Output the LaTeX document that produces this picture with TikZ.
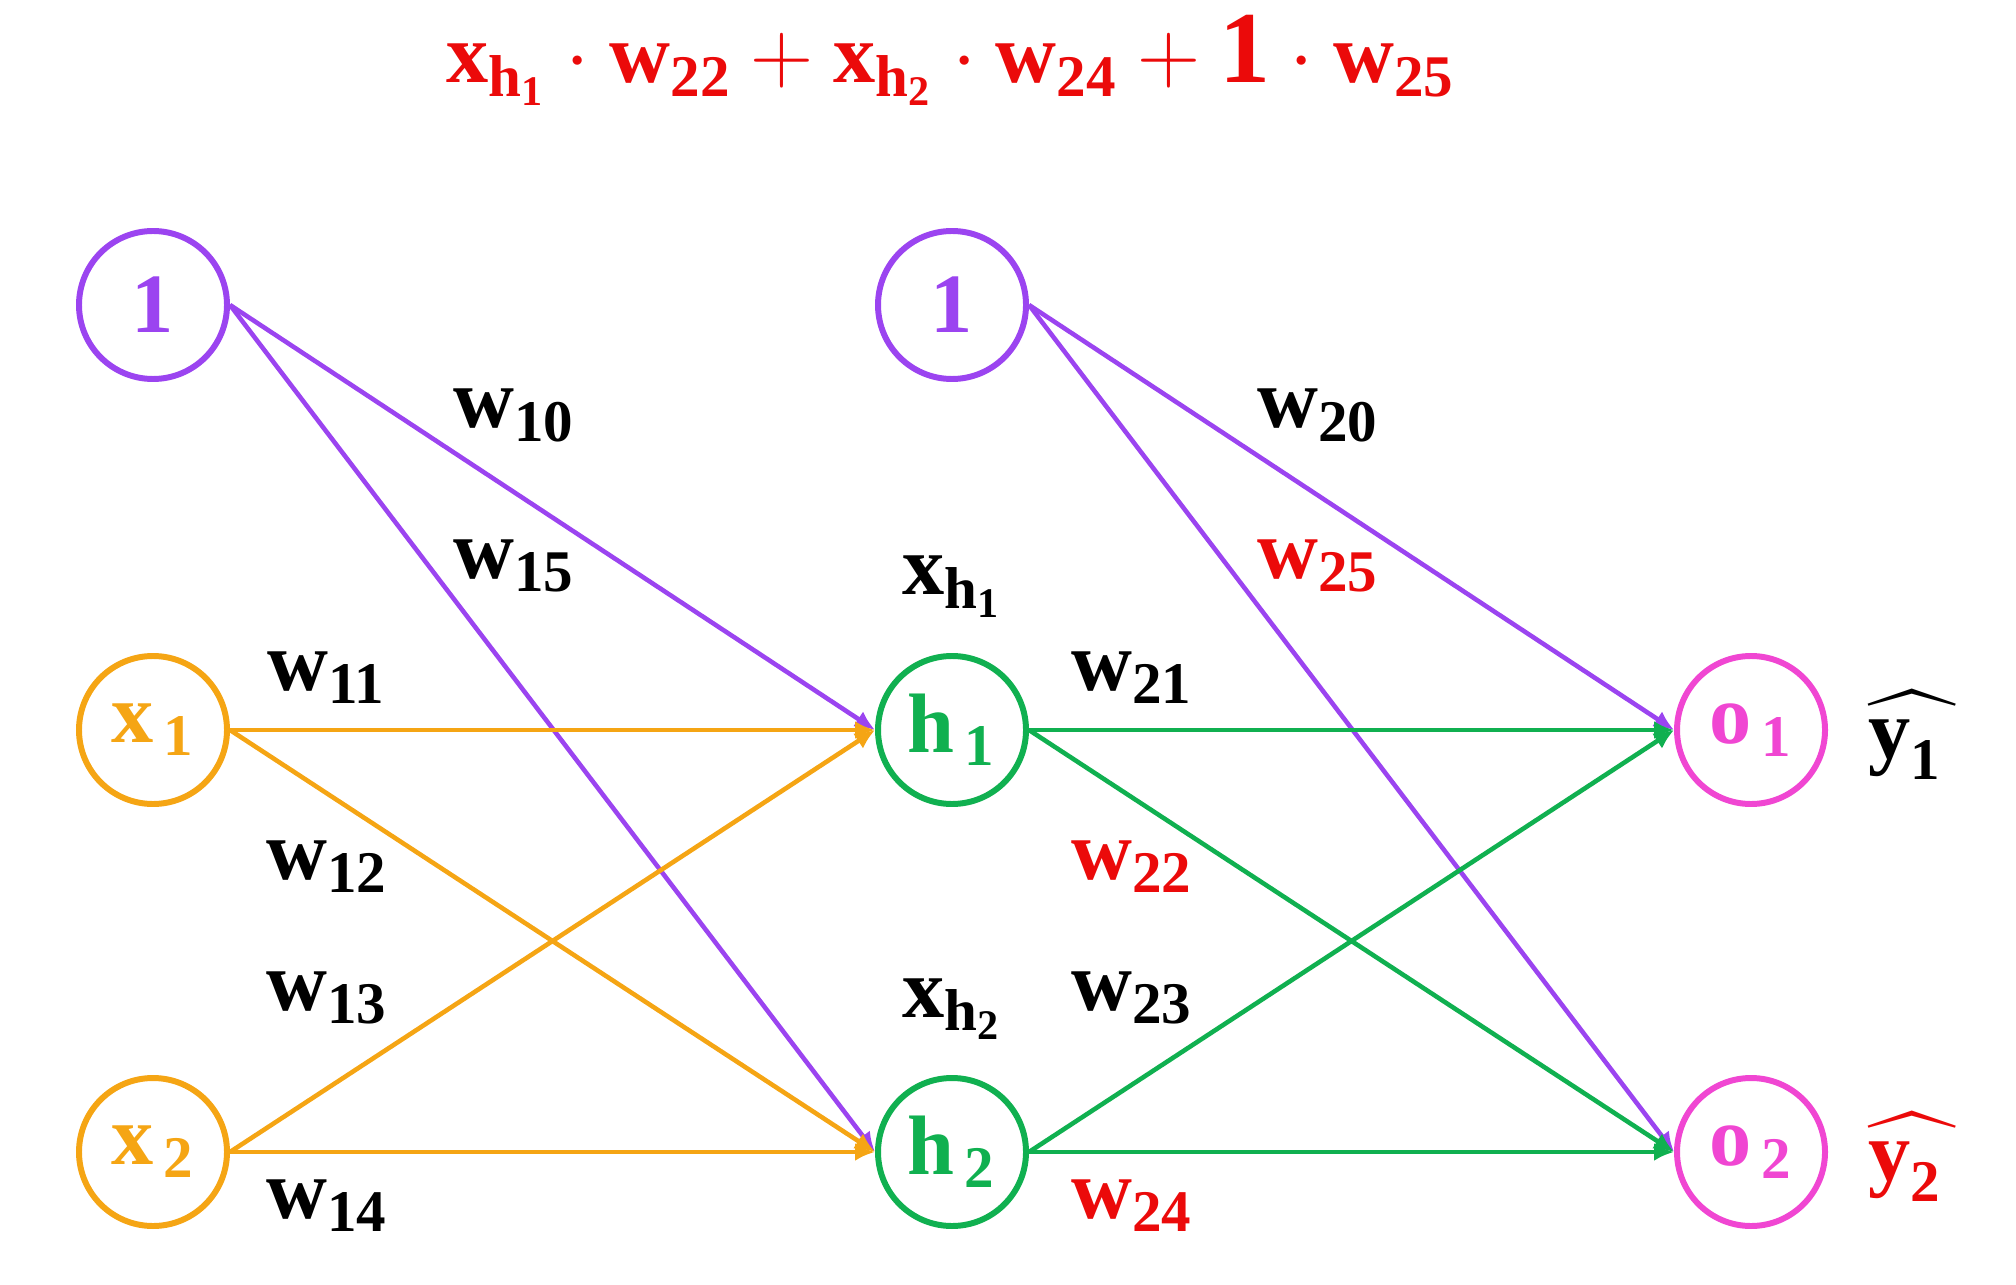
\documentclass[tikz,border=0pt]{standalone}
\usepackage{amsmath}
\usepackage{fontspec}
\setmainfont{Liberation Serif}
\usepackage{tikz}
\usetikzlibrary{positioning,arrows.meta}
\definecolor{cpurple}{RGB}{155,68,240}
\definecolor{corange}{RGB}{245,165,20}
\definecolor{cgreen}{RGB}{16,176,80}
\definecolor{cpink}{RGB}{240,70,210}
\definecolor{cred}{RGB}{235,10,10}
\tikzset{
    neuron/.style={draw=#1,text=#1,circle,line width=1.7pt,minimum size=1.48cm,inner sep=0pt},
    wlabel/.style={anchor=base,inner sep=0pt},
    arrow/.style={-{Latex[length=2mm,width=1.8mm]},line width=1.3pt}
}
\newcommand{\bw}[1]{\textbf{w}_{\textbf{#1}}}

\begin{document}
\begin{tikzpicture}[font=\fontsize{24}{28}\selectfont,on grid,node distance=4.22cm and 7.99cm]
  \useasboundingbox (0,0) rectangle (20.16,12.84);
  % neurons
  \node[neuron=corange] (X1) at (1.53,5.54) {$\textbf{x}_{\,\textbf{1}}$};
  \node[neuron=corange,below=of X1] (X2) {$\textbf{x}_{\,\textbf{2}}$};
  \node[neuron=cpurple,above=4.25cm of X1] (B1) {$\textbf{1}$};
  \node[neuron=cgreen,right=of X1] (H1) {$\textbf{h}_{\,\textbf{1}}$};
  \node[neuron=cgreen,right=of X2] (H2) {$\textbf{h}_{\,\textbf{2}}$};
  \node[neuron=cpurple,right=of B1] (B2) {$\textbf{1}$};
  \node[neuron=cpink,right=of H1] (O1) {$\textbf{o}_{\,\textbf{1}}$};
  \node[neuron=cpink,right=of H2] (O2) {$\textbf{o}_{\,\textbf{2}}$};

  % connections
  \draw[arrow,cpurple] (B1.east) -- (H1.west);
  \draw[arrow,cpurple] (B1.east) -- (H2.west);
  \draw[arrow,corange] (X1.east) -- (H1.west);
  \draw[arrow,corange] (X1.east) -- (H2.west);
  \draw[arrow,corange] (X2.east) -- (H1.west);
  \draw[arrow,corange] (X2.east) -- (H2.west);
  \draw[arrow,cpurple] (B2.east) -- (O1.west);
  \draw[arrow,cpurple] (B2.east) -- (O2.west);
  \draw[arrow,cgreen] (H1.east) -- (O1.west);
  \draw[arrow,cgreen] (H1.east) -- (O2.west);
  \draw[arrow,cgreen] (H2.east) -- (O1.west);
  \draw[arrow,cgreen] (H2.east) -- (O2.west);

  % weights
  \node[wlabel] (W10) at (5.14,8.56) {$\bw{10}$};
  \node[wlabel] (W15) at (5.14,7.06) {$\bw{15}$};
  \node[wlabel] (W11) at (3.27,5.94) {$\bw{11}$};
  \node[wlabel] (W12) at (3.27,4.05) {$\bw{12}$};
  \node[wlabel] (W13) at (3.27,2.74) {$\bw{13}$};
  \node[wlabel] (W14) at (3.27,0.66) {$\bw{14}$};
  \node[wlabel] (W20) at (13.18,8.56) {$\bw{20}$};
  \node[wlabel,cred] (W25) at (13.18,7.06) {$\bw{25}$};
  \node[wlabel] (W21) at (11.32,5.94) {$\bw{21}$};
  \node[wlabel,cred] (W22) at (11.32,4.05) {$\bw{22}$};
  \node[wlabel] (W23) at (11.32,2.74) {$\bw{23}$};
  \node[wlabel,cred] (W24) at (11.32,0.66) {$\bw{24}$};
  \node[wlabel] (XH1) at (9.52,6.89) {$\textbf{x}_{\textbf{h}_{\textbf{1}}}$};
  \node[wlabel] (XH2) at (9.52,2.67) {$\textbf{x}_{\textbf{h}_{\textbf{2}}}$};
  \node[wlabel] (Y1) at (19.12,5.26) {$\widehat{\textbf{y}_{\textbf{1}}\,}$};
  \node[wlabel,cred] (Y2) at (19.12,1.04) {$\widehat{\textbf{y}_{\textbf{2}}\,}$};

  % sum for o2
  \node[wlabel,cred] (SUM) at (9.51,12.01) {$\textbf{x}_{\textbf{h}_{\textbf{1}}}\cdot\bw{22}+\textbf{x}_{\textbf{h}_{\textbf{2}}}\cdot\bw{24}+\text{\fontsize{29}{29}\selectfont\textbf{1}}\cdot\bw{25}$};
\end{tikzpicture}
\end{document}
